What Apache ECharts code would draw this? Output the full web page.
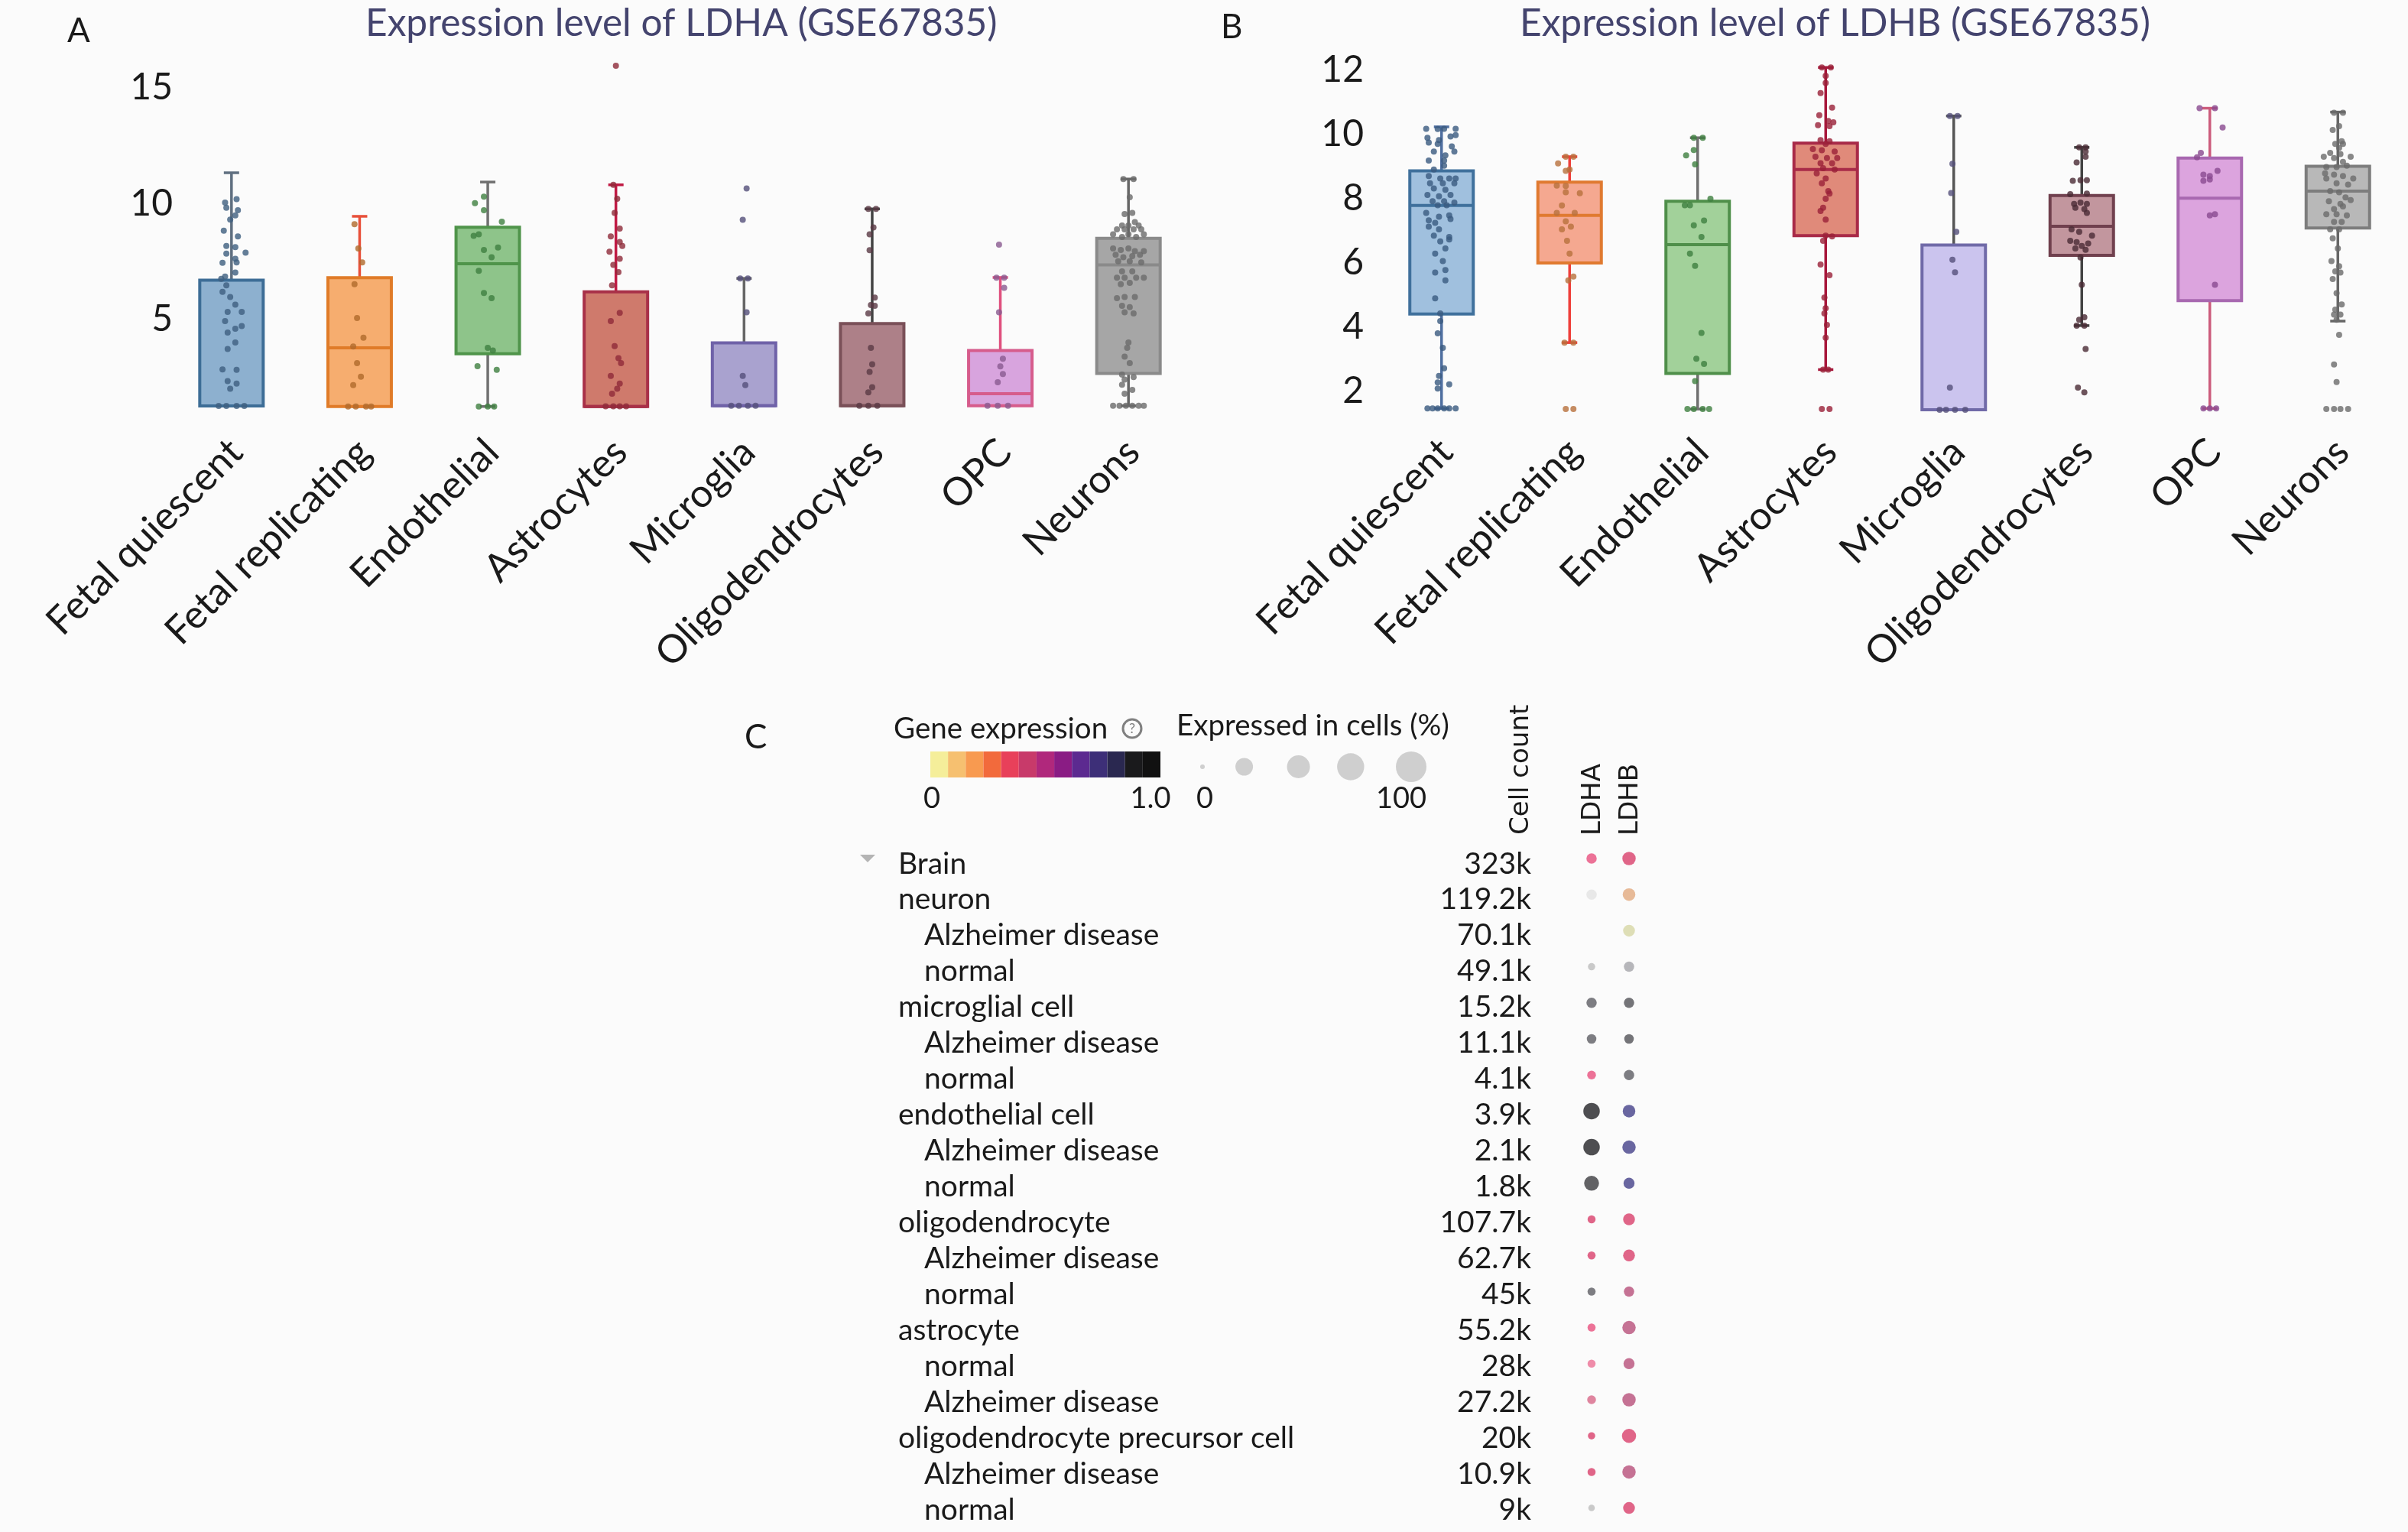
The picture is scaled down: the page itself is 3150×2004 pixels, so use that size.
<!DOCTYPE html>
<html><head><meta charset="utf-8">
<style>html,body{margin:0;padding:0;background:#fbfbfb}#c{width:3150px;height:2004px}</style>
<script src="https://cdn.jsdelivr.net/npm/echarts@6/dist/echarts.min.js"></script>
</head><body><div id="c"></div>
<script>
const cellTypes=['Fetal quiescent','Fetal replicating','Endothelial','Astrocytes','Microglia','Oligodendrocytes','OPC','Neurons'];
const ldhaTicks=[5,10,15];
const ldhbTicks=[2,4,6,8,10,12];
const ldhaLow=[1.26,1.24,1.24,1.24,1.27,1.27,1.27,1.27];
const ldhaQ1=[1.26,1.24,3.52,1.24,1.27,1.27,1.27,2.67];
const ldhaMed=[1.26,3.77,7.40,1.24,1.27,1.27,1.79,7.35];
const ldhaQ3=[6.69,6.80,8.98,6.19,3.99,4.82,3.66,8.50];
const ldhaHigh=[11.33,9.45,10.93,10.81,6.77,9.77,6.81,11.06];
const ldhbLow=[1.47,3.52,1.45,2.68,1.43,4.05,1.47,4.19];
const ldhbQ1=[4.41,6.00,2.56,6.85,1.43,6.24,4.83,7.09];
const ldhbMed=[7.79,7.48,6.57,8.91,1.43,7.14,8.02,8.24];
const ldhbQ3=[8.87,8.52,7.92,9.73,6.56,8.10,9.27,9.01];
const ldhbHigh=[10.24,9.31,9.90,12.09,10.58,9.60,10.82,10.70];
const ldhaPoints=[
[[.04,10.19],[-.05,10.04],[-.04,9.82],[.05,9.71],[.03,9.49],[-.01,9.31],[-.06,8.83],[.05,8.58],[-.04,8.17],[.03,8.12],[.11,7.88],[-.04,7.84],[.03,7.62],[-.07,7.44],[.04,7.46],[.03,7.02],[-.05,6.85],[-.08,6.75],[-.04,6.47],[-.07,6.19],[-.01,5.97],[.03,5.64],[-.03,5.32],[.08,5.32],[-.05,4.93],[.08,4.71],[.03,4.6],[-.03,4.43],[.03,4.0],[-.03,3.72],[-.07,2.84],[.04,2.82],[-.03,2.34],[.04,2.23],[-.01,2.01],[-.1,1.26],[-.04,1.26],[.04,1.26],[.1,1.26]],
[[-.04,9.11],[-.01,8.06],[.02,7.46],[-.04,6.52],[-.02,5.06],[.03,4.21],[-.05,3.83],[-.02,3.11],[.01,2.53],[-.05,2.16],[-.09,1.24],[-.03,1.24],[.05,1.24],[.09,1.24]],
[[-.03,10.3],[-.10,10.02],[-.03,9.71],[.11,9.22],[-.11,8.61],[-.07,8.67],[-.03,8.0],[.08,8.1],[.03,7.68],[-.07,7.1],[-.03,6.14],[.03,5.92],[0,3.77],[.04,3.66],[-.08,2.98],[.07,2.82],[-.07,1.24],[0,1.24],[.05,1.24]],
[[0,15.95],[-.02,10.81],[.01,10.21],[-.01,9.6],[.03,8.92],[-.04,8.58],[.03,8.34],[.05,8.17],[-.05,7.92],[.03,7.62],[-.02,7.35],[.02,7.04],[-.03,6.47],[.03,5.28],[-.04,4.93],[-.01,3.85],[.02,3.33],[.04,3.11],[-.04,2.56],[.03,2.23],[.01,2.01],[-.03,1.79],[-.08,1.25],[-.02,1.25],[.03,1.25],[.08,1.25]],
[[.02,10.65],[-.01,9.3],[-.03,6.77],[.03,6.77],[.02,5.31],[-.01,2.56],[.01,2.16],[-.1,1.27],[-.04,1.27],[.03,1.27],[.09,1.27]],
[[-.03,9.77],[.03,9.77],[.01,8.97],[-.02,8.67],[-.02,7.99],[.02,5.94],[-.01,5.62],[.02,5.59],[-.03,5.26],[-.01,3.77],[0,3.06],[-.02,2.73],[0,2.07],[-.03,1.85],[-.1,1.27],[-.03,1.27],[.04,1.27]],
[[-.01,8.23],[-.03,6.8],[.03,6.8],[.03,6.36],[-.01,5.31],[.02,3.3],[0,2.97],[.02,2.64],[-.02,2.29],[-.1,1.27],[-.02,1.27],[.06,1.27]],
[[-.04,11.06],[.04,11.06],[.01,10.27],[-.03,9.55],[.03,9.6],[.05,9.2],[-.05,9.05],[0,9.05],[.08,9.05],[-.09,8.89],[-.03,8.89],[.04,8.89],[.1,8.89],[-.12,8.67],[0,8.67],[.12,8.67],[-.05,8.56],[.06,8.56],[-.12,8.06],[-.06,8.0],[0,8.06],[.05,7.95],[.12,7.95],[-.1,7.79],[-.04,7.68],[.03,7.73],[.09,7.79],[-.08,7.51],[.01,7.51],[.1,7.46],[-.05,7.07],[.03,7.07],[-.09,6.8],[-.03,6.8],[.06,6.8],[.12,6.8],[-.06,6.52],[.01,6.58],[-.09,5.92],[-.03,5.97],[.05,5.97],[-.05,5.59],[.01,5.53],[-.03,5.31],[.04,5.26],[0,4.0],[-.01,3.77],[-.03,3.39],[.01,3.11],[-.05,2.62],[.04,2.51],[-.03,2.4],[-.05,2.18],[.03,1.96],[-.03,1.79],[-.12,1.27],[-.07,1.27],[-.02,1.27],[.03,1.27],[.08,1.27],[.12,1.27]]
];
const ldhbPoints=[
[[-.12,10.18],[-.03,10.17],[.02,10.18],[.11,10.18],[.11,9.98],[.07,9.94],[-.11,9.9],[-.02,9.83],[-.1,9.75],[.08,9.63],[-.03,9.71],[-.06,9.47],[.03,9.35],[.1,9.47],[-.1,9.19],[.02,9.19],[.02,9.03],[-.06,8.91],[-.1,8.71],[-.01,8.63],[.06,8.63],[.11,8.63],[-.09,8.48],[.01,8.48],[.1,8.48],[-.06,8.32],[.03,8.28],[-.11,8.12],[-.02,8.08],[.07,8.12],[-.07,7.92],[.02,7.92],[.1,7.88],[-.03,7.8],[.04,7.8],[-.12,7.56],[-.02,7.44],[.06,7.48],[-.1,7.33],[-.05,7.25],[.07,7.37],[-.1,7.13],[-.02,7.05],[-.06,6.85],[.06,6.81],[-.01,6.67],[.06,6.73],[.03,6.45],[-.05,6.29],[.01,6.06],[-.05,5.7],[.03,5.78],[.03,5.46],[-.05,4.9],[-.01,4.43],[-.01,4.19],[-.03,3.81],[.01,3.36],[.02,2.72],[-.02,2.48],[-.03,2.28],[.06,2.22],[-.03,2.09],[-.11,1.47],[-.07,1.47],[-.03,1.47],[.02,1.47],[.06,1.47],[.11,1.47]],
[[-.03,9.31],[.03,9.31],[-.09,9.1],[0,8.91],[-.03,8.87],[-.1,8.41],[-.03,8.4],[-.03,8.2],[.08,8.17],[-.06,7.79],[-.1,7.56],[.04,7.56],[-.03,7.3],[.01,7.13],[-.06,7.05],[-.02,6.69],[0,6.29],[.03,5.58],[-.01,5.46],[-.04,3.52],[.03,3.52],[-.03,1.45],[.03,1.45]],
[[-.03,9.9],[.04,9.9],[-.03,9.52],[-.09,9.35],[-.02,9.07],[.1,8.0],[-.1,7.8],[-.06,7.8],[.05,7.32],[-.03,7.17],[.03,6.81],[-.06,6.29],[-.02,5.91],[.03,3.82],[-.01,3.02],[.05,2.86],[-.02,2.32],[-.08,1.45],[-.03,1.45],[.04,1.45],[.09,1.45]],
[[-.03,12.09],[.04,12.09],[0,11.83],[0,11.61],[-.04,11.29],[.05,10.84],[-.05,10.6],[.02,10.42],[.06,10.38],[-.06,10.29],[.03,10.26],[-.04,9.83],[.03,9.79],[0,9.71],[-.1,9.55],[-.03,9.51],[.07,9.47],[-.08,9.31],[.01,9.27],[.09,9.27],[-.04,9.11],[.05,9.11],[-.02,8.95],[.07,8.91],[-.07,8.79],[0,8.63],[-.03,8.48],[.02,8.24],[.03,8.16],[0,8.0],[-.02,7.72],[-.04,7.62],[0,7.35],[0,6.85],[.05,6.83],[-.02,6.69],[-.04,5.95],[.03,5.62],[-.01,4.92],[0,4.59],[-.01,4.43],[.01,4.07],[0,3.67],[-.02,2.68],[.02,2.68],[-.03,1.45],[.03,1.45]],
[[-.03,10.58],[.03,10.58],[-.01,9.09],[-.02,8.18],[.02,6.97],[-.01,6.1],[.01,5.71],[-.03,2.12],[-.11,1.43],[-.06,1.43],[.01,1.43],[.09,1.43]],
[[-.02,9.6],[.03,9.6],[.03,9.47],[.03,9.31],[-.04,9.13],[-.07,8.56],[-.01,8.58],[.04,8.58],[-.09,8.14],[.04,8.16],[-.06,7.84],[-.01,7.88],[.04,7.84],[-.05,7.72],[.02,7.68],[.04,7.56],[-.08,7.05],[-.02,6.97],[-.09,6.69],[-.04,6.65],[.08,6.85],[.05,6.61],[0,6.53],[-.05,6.45],[.03,6.41],[-.01,6.17],[0,5.32],[.02,4.31],[-.02,4.23],[-.04,4.05],[.02,4.05],[.03,3.32],[-.03,2.12],[.02,1.97]],
[[-.08,10.82],[.04,10.82],[.10,10.22],[-.07,9.43],[-.1,9.29],[.06,8.87],[-.05,8.75],[0,8.71],[-.05,8.56],[0,8.6],[.04,7.52],[0,7.48],[.04,5.32],[-.05,1.47],[0,1.47],[.05,1.47]],
[[-.03,10.68],[.04,10.68],[.01,10.26],[-.04,10.14],[.03,9.79],[-.02,9.71],[.04,9.71],[.01,9.59],[-.06,9.43],[.02,9.39],[.1,9.31],[-.11,9.31],[-.03,9.27],[.04,9.15],[-.09,8.99],[-.01,8.99],[.07,9.03],[-.1,8.79],[-.03,8.75],[.04,8.71],[.12,8.63],[-.09,8.63],[-.01,8.48],[.08,8.44],[-.06,8.24],[.01,8.2],[.06,8.04],[-.07,7.92],[.02,7.84],[.1,7.96],[-.03,7.68],[.04,7.76],[-.09,7.52],[-.01,7.52],[.07,7.48],[-.03,7.28],[.03,7.28],[-.06,7.05],[.01,7.05],[-.04,6.77],[0,6.45],[-.05,6.06],[.01,5.9],[-.02,5.74],[.02,5.7],[-.04,5.5],[-.01,5.06],[.03,4.71],[-.02,4.55],[-.03,4.39],[.02,4.39],[-.01,4.23],[.01,3.76],[-.03,2.84],[-.01,2.29],[-.09,1.45],[-.03,1.45],[.02,1.45],[.08,1.45]]
];
const rowNames=['Brain','neuron','Alzheimer disease','normal','microglial cell','Alzheimer disease','normal','endothelial cell','Alzheimer disease','normal','oligodendrocyte','Alzheimer disease','normal','astrocyte','normal','Alzheimer disease','oligodendrocyte precursor cell','Alzheimer disease','normal'];
const rowLevels=[0,0,1,1,0,1,1,0,1,1,0,1,1,0,1,1,0,1,1];
const rowCounts=['323k','119.2k','70.1k','49.1k','15.2k','11.1k','4.1k','3.9k','2.1k','1.8k','107.7k','62.7k','45k','55.2k','28k','27.2k','20k','10.9k','9k'];
const genes=['LDHA','LDHB'];
const ldhaPct=[3.1,3.1,null,.35,3.1,2.2,1.4,17,17,12.5,.8,.8,.8,.8,.8,1.4,.35,.8,.09];
const ldhbPct=[8.7,7,5.5,3.1,3.1,2.2,3.1,7,8.7,4.2,5.5,5.5,3.1,8.7,4.2,8.7,10.5,8.7,5.5];
const ldhaTone=['rose','pale',null,'silver','ash','ash','rose','ink','ink','charcoal','roseDeep','roseDeep','ash','rose','blush','dust','roseDeep','roseDeep','silver'];
const ldhbTone=['roseDeep','peach','straw','steel','slate','slate','ash','indigo','indigo','indigo','roseDeep','roseDeep','wine','wine','wine','wine','roseDeep','wine','roseDeep'];
const legendPct=[0,25,50,75,100];
const legendDotPos=[0,20,46,71,100];

const FONT='Lato';
const tonePalette={rose:'#e8507e',roseDeep:'#d9406c',blush:'#ec7095',dust:'#d86888',wine:'#b8507a',ash:'#5e5e64',slate:'#525258',ink:'#232327',charcoal:'#3c3c40',indigo:'#45418a',pale:'#e4e4e4',silver:'#bdbdbd',steel:'#a5a5aa',peach:'#e2aa80',straw:'#d7d7a5'};
const colorSteps=['#f5ee9a','#f6c070','#f89a50','#f26a3c','#e8405a','#c83a6a','#b0287c','#8a1c84','#5c2a90','#3d2f78','#2a2850','#1a1a1c','#111111'];
const styleA={fill:['#8db0cf','#f6ad6f','#8ec48a','#cf7a6c','#a9a2cf','#ad8088','#d8a4de','#a6a6a6'],
 stroke:['#3d6d96','#e07b28','#4f944a','#a83048','#6f62a8','#7a5058','#d65c8c','#8a8a8a'],
 whisk:['#5f6f80','#e8503a','#707070','#c01a44','#666666','#444444','#e0507e','#666666'],
 dot:['#3f5f80','#b06a2c','#3f7f40','#8e2a3a','#55507a','#5a3a45','#8a5a90','#6b6b6b']};
const styleB={fill:['#a0c0de','#f5a890','#a2d19a','#e08a7a','#cbc4ee','#c2969e','#dca4de','#b8b8b8'],
 stroke:['#3f709c','#e07a30','#4f8f4a','#a82a48','#706aa8','#70404e','#a868b0','#7d7d7d'],
 whisk:['#4f6fa0','#ee3f3a','#6f6f6f','#a8183c','#555555','#444444','#cc5c7c','#666666'],
 dot:['#3a5a80','#b8703c','#3f7f40','#9a2038','#55507a','#4a2a35','#8a4a90','#6b6b6b']};

function boxSeries(xi,yi,st,lo,q1,med,q3,hi){
 return {type:'custom',xAxisIndex:xi,yAxisIndex:yi,clip:false,z:2,silent:true,
  data:cellTypes.map((c,i)=>[i,lo[i],q1[i],med[i],q3[i],hi[i]]),
  encode:{x:0,y:[1,2,3,4,5]},
  renderItem(p,api){
   const i=api.value(0),x=api.coord([i,0])[0],hw=41.5,cap=10;
   const y=v=>api.coord([i,v])[1];
   const yl=y(api.value(1)),y1=y(api.value(2)),ym=y(api.value(3)),y3=y(api.value(4)),yh=y(api.value(5));
   const wl={stroke:st.whisk[i],lineWidth:3.5,fill:null};
   const bl={stroke:st.stroke[i],lineWidth:4,fill:null};
   const ln=(x1,y1_,x2,y2,s)=>({type:'line',shape:{x1,y1:y1_,x2,y2},style:s});
   return {type:'group',children:[
    ln(x,y3,x,yh,wl),ln(x-cap,yh,x+cap,yh,wl),
    ln(x,y1,x,yl,wl),ln(x-cap,yl,x+cap,yl,wl),
    {type:'rect',shape:{x:x-hw,y:y3,width:2*hw,height:y1-y3},style:{fill:st.fill[i],stroke:st.stroke[i],lineWidth:4}},
    ln(x-hw,ym,x+hw,ym,bl)
   ]};
  }};
}
function pointSeries(xi,yi,st,pts){
 const data=[];
 pts.forEach((a,i)=>a.forEach(p=>data.push({value:[i+p[0],p[1]],itemStyle:{color:st.dot[i]}})));
 return {type:'scatter',xAxisIndex:xi,yAxisIndex:yi,data,symbolSize:8,z:3,silent:true,clip:false};
}
const xLabel=m=>({fontFamily:FONT,fontSize:51,color:'#1a1a1a',rotate:45,interval:0,margin:m});
function tickFmt(list){return v=>list.includes(v)?String(v):'';}
const dotSize=p=>6+34*Math.sqrt(p/100);
function dotSeries(geneIdx,pct,tone){
 return {type:'scatter',xAxisIndex:5,yAxisIndex:4,silent:true,
  data:rowNames.map((r,i)=>pct[i]==null?null:{value:[geneIdx,i],symbolSize:dotSize(pct[i])+1.5,itemStyle:{color:tonePalette[tone[i]]}}).filter(d=>d)};
}
function txt(x,y,s,size,extra){
 return Object.assign({type:'text',x,y,silent:true,style:Object.assign({text:s,fontFamily:FONT,fontSize:size,fill:'#1a1a1a',textAlign:'left',textVerticalAlign:'middle',verticalAlign:'middle'},extra&&extra.style||{})},extra&&extra.el||{});
}
const opt={
 animation:false,backgroundColor:'#fbfbfb',
 grid:[
  {left:225,top:54.2,width:1341,height:515.1},
  {left:1808,top:8,width:1340,height:588},
  {left:2050,top:1106.5,width:100,height:891.9},
  {left:2057.5,top:1099.4,width:98,height:896.8},
  {left:1217,top:983,width:301,height:34},
  {left:1573,top:970,width:273,height:66},
  {left:219,top:54.2,width:1341,height:515.1},
  {left:1802,top:8,width:1340,height:588}
 ],
 xAxis:[
  {gridIndex:0,type:'category',data:cellTypes,axisLine:{show:false},axisTick:{show:false},axisLabel:xLabel(14)},
  {gridIndex:6,type:'value',min:-.5,max:7.5,show:false},
  {gridIndex:1,type:'category',data:cellTypes,axisLine:{show:false},axisTick:{show:false},axisLabel:xLabel(-13)},
  {gridIndex:7,type:'value',min:-.5,max:7.5,show:false},
  {gridIndex:2,type:'category',data:genes,show:false},
  {gridIndex:3,type:'category',data:genes,show:false},
  {gridIndex:4,type:'category',data:colorSteps.map((s,i)=>i),show:false},
  {gridIndex:5,type:'value',min:0,max:100,show:false}
 ],
 yAxis:[
  {gridIndex:6,type:'value',min:0,max:17,interval:5,splitLine:{show:false},axisLine:{show:false},axisTick:{show:false},
   axisLabel:{formatter:tickFmt(ldhaTicks),fontFamily:FONT,fontSize:48,color:'#1a1a1a',margin:-7}},
  {gridIndex:7,type:'value',min:0,max:14,interval:2,splitLine:{show:false},axisLine:{show:false},axisTick:{show:false},
   axisLabel:{formatter:tickFmt(ldhbTicks),fontFamily:FONT,fontSize:48,color:'#1a1a1a',margin:18}},
  {gridIndex:2,type:'category',inverse:true,data:rowNames,axisLine:{show:false},axisTick:{show:false},
   axisLabel:{interval:0,align:'left',margin:875,
    formatter:(v,i)=>rowLevels[i]?`{b|${v}}`:`{a|${v}}`,
    rich:{a:{fontFamily:FONT,fontSize:39,color:'#1a1a1a'},b:{fontFamily:FONT,fontSize:39,color:'#1a1a1a',padding:[0,0,0,34]}}}},
  {gridIndex:2,type:'category',inverse:true,data:rowCounts,position:'left',axisLine:{show:false},axisTick:{show:false},
   axisLabel:{interval:0,align:'right',margin:47,fontFamily:FONT,fontSize:39,color:'#1a1a1a'}},
  {gridIndex:3,type:'category',inverse:true,data:rowNames,show:false},
  {gridIndex:4,type:'value',min:0,max:1,show:false},
  {gridIndex:5,type:'value',min:0,max:1,show:false},
  {gridIndex:0,type:'value',show:false},
  {gridIndex:1,type:'value',show:false}
 ],
 series:[
  boxSeries(1,0,styleA,ldhaLow,ldhaQ1,ldhaMed,ldhaQ3,ldhaHigh),
  pointSeries(1,0,styleA,ldhaPoints),
  boxSeries(3,1,styleB,ldhbLow,ldhbQ1,ldhbMed,ldhbQ3,ldhbHigh),
  pointSeries(3,1,styleB,ldhbPoints),
  dotSeries(0,ldhaPct,ldhaTone),
  dotSeries(1,ldhbPct,ldhbTone),
  {type:'bar',xAxisIndex:6,yAxisIndex:5,barWidth:'100%',silent:true,data:colorSteps.map(col=>({value:1,itemStyle:{color:col}}))},
  {type:'scatter',xAxisIndex:7,yAxisIndex:6,silent:true,itemStyle:{color:'#c4c4c4'},
   data:legendPct.map((p,i)=>({value:[legendDotPos[i],.5],symbolSize:dotSize(p)}))}
 ],
 graphic:{elements:[
  txt(478,31,'Expression level of LDHA (GSE67835)',49.6,{style:{fill:'#44446e'}}),
  txt(1988,31,'Expression level of LDHB (GSE67835)',49.6,{style:{fill:'#44446e'}}),
  txt(88,41,'A',44),txt(1597,36,'B',44),txt(974,965,'C',44),
  txt(1169,954,'Gene expression',38.5),txt(1539,950,'Expressed in cells (%)',38.5),
  txt(1219,1045,'0',38,{style:{textAlign:'center'}}),txt(1505,1045,'1.0',38,{style:{textAlign:'center'}}),
  txt(1576,1045,'0',38,{style:{textAlign:'center'}}),txt(1833,1045,'100',38,{style:{textAlign:'center'}}),
  {type:'circle',silent:true,shape:{cx:1481,cy:953,r:12},style:{fill:'none',stroke:'#808080',lineWidth:3}},
  txt(1481,953,'?',18,{style:{textAlign:'center',fill:'#808080'}}),
  {type:'polygon',silent:true,shape:{points:[[1125,1118],[1145,1118],[1135,1128]]},style:{fill:'#b4b4b4'}},
  txt(1990,1092,'Cell count',34,{el:{rotation:Math.PI/2},style:{fontFamily:'DejaVu Sans'}}),
  txt(2084,1093,'LDHA',34,{el:{rotation:Math.PI/2},style:{fontFamily:'DejaVu Sans'}}),
  txt(2133,1093,'LDHB',34,{el:{rotation:Math.PI/2},style:{fontFamily:'DejaVu Sans'}})
 ]}
};
echarts.init(document.getElementById('c'),null,{renderer:'canvas'}).setOption(opt);
</script></body></html>
